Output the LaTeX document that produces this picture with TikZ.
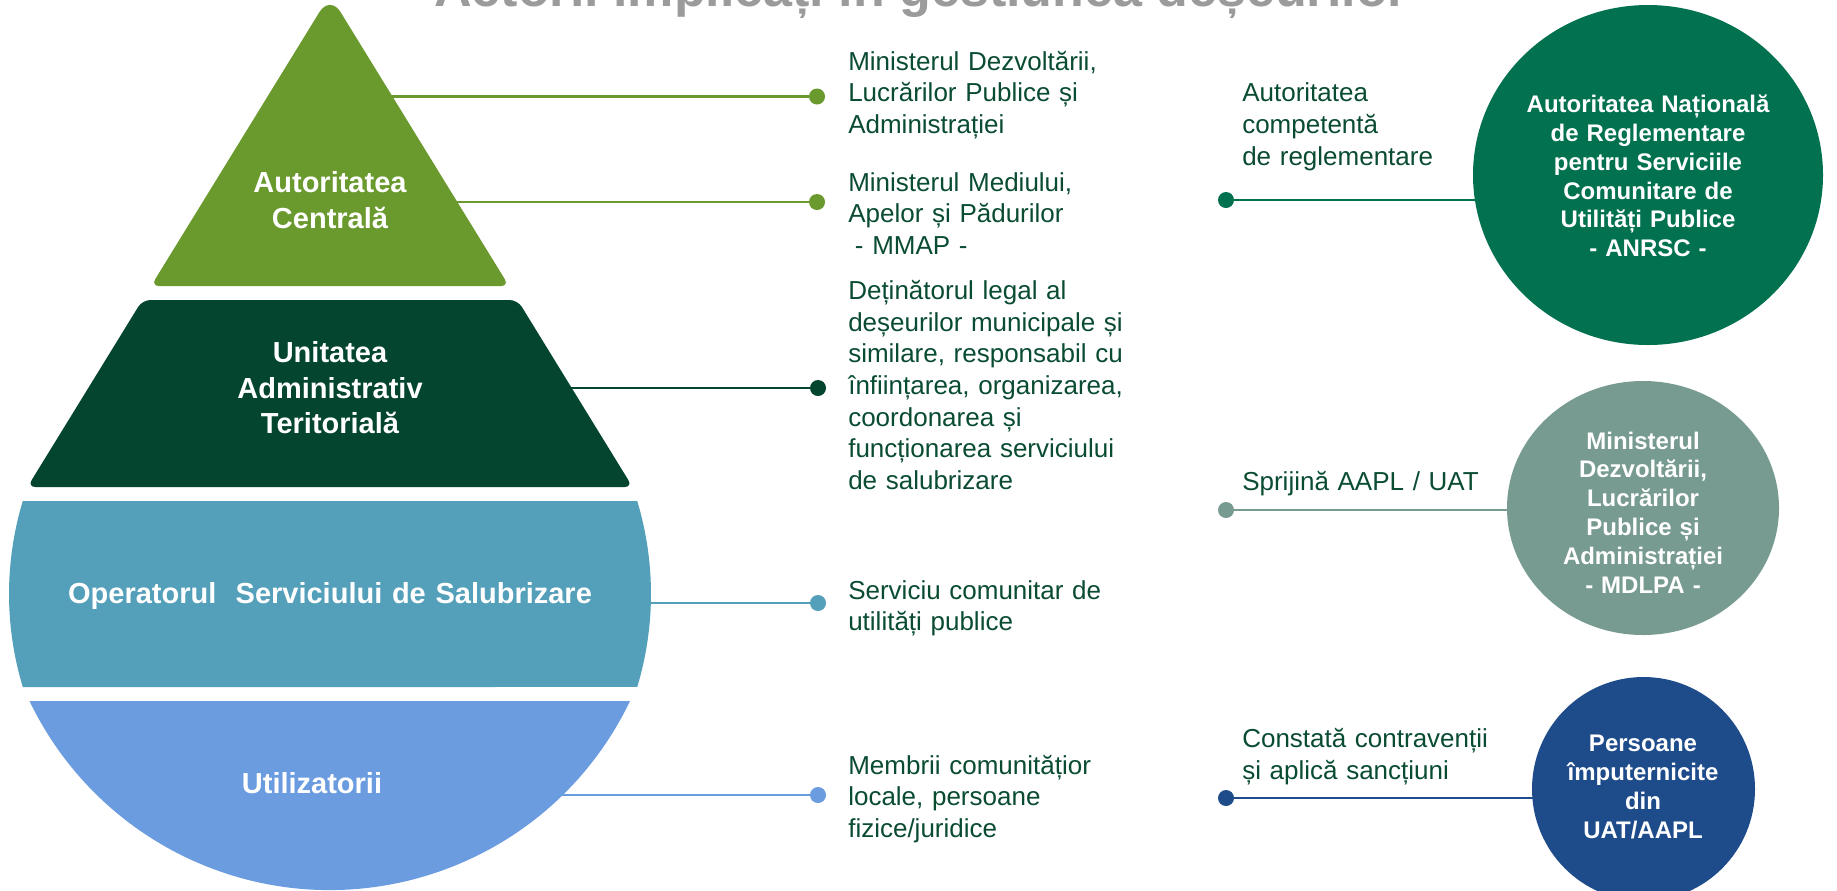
\documentclass[tikz,border=0pt]{standalone}
\usepackage{fontspec}
\setmainfont{Liberation Sans}
\usetikzlibrary{calc,shapes.geometric}
\pgfdeclarelayer{paper}
\pgfdeclarelayer{bg}
\pgfsetlayers{paper,bg,main}
\definecolor{cTri}{RGB}{106,153,46}
\definecolor{cUat}{RGB}{3,69,47}
\definecolor{cOp}{RGB}{84,159,186}
\definecolor{cUt}{RGB}{106,156,223}
\definecolor{cAnrsc}{RGB}{2,113,79}
\definecolor{cMdlpa}{RGB}{120,155,145}
\definecolor{cPers}{RGB}{30,75,138}
\definecolor{cText}{RGB}{10,76,50}
\definecolor{cTitle}{RGB}{155,155,155}
\begin{document}
\begin{tikzpicture}[x=0.75pt,y=-0.75pt,
  desc/.style={anchor=base west, inner sep=0pt, text width=240pt, align=left, text=cText,
    font=\fontsize{19.5pt}{23.8pt}\selectfont},
  slabtxt/.style={anchor=base, inner sep=0pt, text width=420pt, align=center, text=white,
    font=\bfseries\fontsize{21.75pt}{26.5pt}\selectfont},
  circtxt/.style={anchor=base, inner sep=0pt, text width=200pt, align=center, text=white,
    font=\bfseries\fontsize{18pt}{21.6pt}\selectfont},
  dot/.style={circle, inner sep=0pt, minimum size=12pt},
  blob/.style={ellipse, inner sep=0pt},
  conn/.style={line width=2pt}]
\useasboundingbox (0,0) rectangle (1837,890);
\begin{pgfonlayer}{paper}
  \fill[white] (0,0) rectangle (1837,890);
\end{pgfonlayer}
\clip (0,0) rectangle (1837,890);

% title (cut off at the top, as in the original)
\node[anchor=base west, inner sep=0pt, text=cTitle,
  font=\bfseries\fontsize{39pt}{47pt}\selectfont] (title) at (434,6)
  {Actorii implicați în gestiunea deșeurilor};

% pyramid slabs
\fill[cTri] (319.5,12) .. controls (325.3,2.6) and (334.7,2.6) .. (340.5,12)
  -- (504.8,279.2) .. controls (507.1,282.9) and (505.4,286) .. (501,286)
  -- (159,286) .. controls (154.6,286) and (152.9,282.9) .. (155.2,279.2) -- cycle;
\fill[cUat, rounded corners=6pt] (142.4,300) -- (517.6,300) -- (632.6,487) -- (27.4,487) -- cycle;
\fill[cOp] (22.8,501) -- (637.2,501) arc[start angle=16.84, end angle=-16.84, radius=240.75pt]
  -- (22.8,687) arc[start angle=196.84, end angle=163.16, radius=240.75pt] -- cycle;
\fill[cUt] (30,701) -- (630,701) arc[start angle=-25.62, end angle=-154.38, radius=249.75pt] -- cycle;

\coordinate (tri) at (330,150);
\coordinate (uat) at (330,390);
\coordinate (op) at (330,594);
\coordinate (ut) at (330,790);

\node[slabtxt] (t1) at (330,192.7) {Autoritatea\\Centrală};
\node[slabtxt] (t2) at (330,362.7) {Unitatea\\Administrativ\\Teritorială};
\node[slabtxt] (t3) at (330,603.3) {Operatorul\ \ Serviciului de Salubrizare};
\node[slabtxt] (t4) at (312,793.3) {Utilizatorii};

% dots of the left column
\node[dot, fill=cTri] (d1) at (817,96.5) {};
\node[dot, fill=cTri] (d2) at (817,202) {};
\node[dot, fill=cUat] (d3) at (818,388) {};
\node[dot, fill=cOp] (d4) at (818,603) {};
\node[dot, fill=cUt] (d5) at (818,795) {};

\begin{pgfonlayer}{bg}
  \draw[conn, cTri] (d1 -| tri) -- (d1);
  \draw[conn, cTri] (d2 -| tri) -- (d2);
  \draw[conn, cUat] (d3 -| uat) -- (d3);
  \draw[conn, cOp] (d4 -| op) -- (d4);
  \draw[conn, cUt] (d5 -| ut) -- (d5);
\end{pgfonlayer}

\node[desc] (e1) at (848,70) {Ministerul Dezvoltării,\\Lucrărilor Publice și\\Administrației};
\node[desc] (e2) at (848,191) {Ministerul Mediului,\\Apelor și Pădurilor\\\hspace*{5pt}- MMAP -};
\node[desc] (e3) at (848,299.3) {Deținătorul legal al\\deșeurilor municipale și\\similare, responsabil cu\\înființarea, organizarea,\\coordonarea și\\funcționarea serviciului\\de salubrizare};
\node[desc] (e4) at (848,599) {Serviciu comunitar de\\utilități publice};
\node[desc] (e5) at (848,774) {Membrii comunitățior\\locale, persoane\\fizice/juridice};

% right column
\node[blob, fill=cAnrsc, minimum width=262.5pt, minimum height=255pt] (anrsc) at (1648,175) {};
\node[blob, fill=cMdlpa, minimum width=204pt, minimum height=190.5pt] (mdlpa) at (1643,508) {};
\node[blob, fill=cPers, minimum width=167.25pt, minimum height=168pt] (pers) at (1643.5,789) {};

\node[dot, fill=cAnrsc] (r1) at (1226,200) {};
\node[dot, fill=cMdlpa] (r2) at (1226,510) {};
\node[dot, fill=cPers] (r3) at (1226,798) {};

\begin{pgfonlayer}{bg}
  \draw[conn, cAnrsc] (r1) -- (r1 -| anrsc.center);
  \draw[conn, cMdlpa] (r2) -- (r2 -| mdlpa.center);
  \draw[conn, cPers] (r3) -- (r3 -| pers.center);
\end{pgfonlayer}

\node[desc] (f1) at (1242,101.7) {Autoritatea\\competentă\\de reglementare};
\node[desc] (f2) at (1242,490.7) {Sprijină AAPL / UAT};
\node[desc] (f3) at (1242,747.7) {Constată contravenții\\și aplică sancțiuni};

\node[circtxt] (g1) at (1648,112.7) {Autoritatea Națională\\de Reglementare\\pentru Serviciile\\Comunitare de\\Utilități Publice\\- ANRSC -};
\node[circtxt] (g2) at (1643,449) {Ministerul\\Dezvoltării,\\Lucrărilor\\Publice și\\Administrației\\- MDLPA -};
\node[circtxt] (g3) at (1643,751.7) {Persoane\\împuternicite\\din\\UAT/AAPL};
\end{tikzpicture}
\end{document}
